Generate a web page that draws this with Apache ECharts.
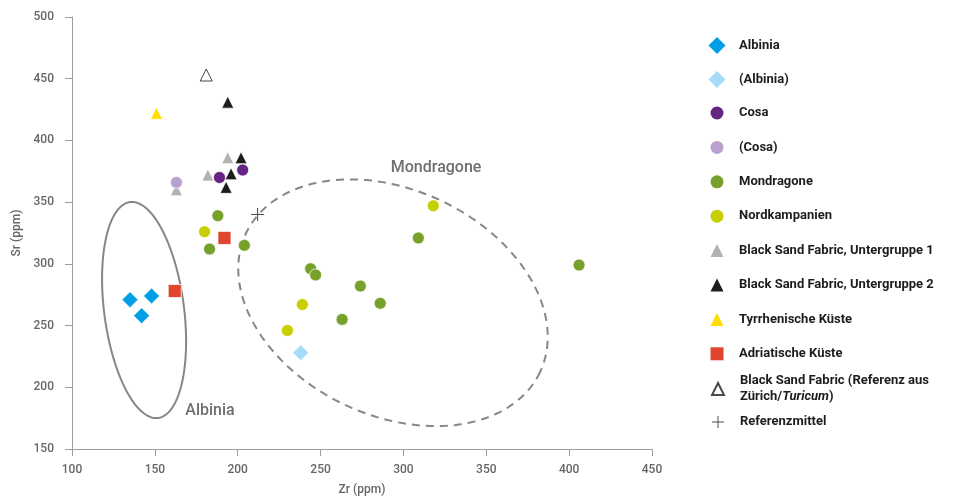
<!DOCTYPE html>
<html>
<head>
<meta charset="utf-8">
<script src="https://cdn.jsdelivr.net/npm/echarts@6/dist/echarts.min.js"></script>
<style>html,body{margin:0;padding:0;background:#fff}#c{width:954px;height:498px}</style>
</head>
<body>
<div id="c"></div>
<script>
// ---- data (Zr, Sr in ppm) ----
var albinia = [[135, 271], [148, 274], [142, 258]];
var albiniaUnsure = [[238, 228]];
var cosa = [[189, 370], [203, 376]];
var cosaUnsure = [[163, 366]];
var mondragone = [[188, 339], [183, 312], [204, 315], [244, 296], [247, 291], [274, 282], [286, 268], [263, 255], [309, 321], [406, 299]];
var nordkampanien = [[180, 326], [239, 267], [230, 246], [318, 347]];
var bsf1 = [[194, 386], [182, 372], [163, 360]];
var bsf2 = [[194, 431], [202, 386], [196, 373], [193, 362]];
var tyrrh = [[151, 422]];
var adriat = [[162, 278], [192, 321]];
var bsfRef = [[181, 453]];
var refMittel = [[212, 340]];
// ellipses: [centre Zr, centre Sr, semi-axis a, semi-axis b (Zr units), angle deg]
var ellAlbinia = [[143.5, 262.6, 65.7, 24.1, 82.6]];
var ellMondragone = [[293.7, 268.5, 98.1, 68.1, 25.2]];
var ellipseLabels = ['Albinia', 'Mondragone'];
var labelPos = [[183.3, 181.0], [319.7, 378.0]];
var xTicks = [100, 450, 50];
var yTicks = [150, 500, 50];

var FONT = 'Roboto';
var refName = 'Black Sand Fabric (Referenz aus Zürich/Turicum)';
var legendNamesA = ['Albinia', '(Albinia)'];
var legendNamesB = ['Cosa', '(Cosa)', 'Mondragone', 'Nordkampanien',
  'Black Sand Fabric, Untergruppe 1', 'Black Sand Fabric, Untergruppe 2', 'Tyrrhenische Küste', 'Adriatische Küste'];
var legendNamesC = [refName, 'Referenzmittel'];

var crossPath = 'path://M0,4.6H10V5.4H0Z M4.6,0H5.4V10H4.6Z';

function sc(name, data, symbol, size, color, extra) {
  var s = {
    type: 'scatter', name: name, data: data, symbol: symbol, symbolSize: size, z: 5,
    itemStyle: { color: color, borderColor: '#ffffff', borderWidth: 0.7, opacity: 1 },
    emphasis: { disabled: true }
  };
  if (extra) for (var k in extra) s[k] = extra[k];
  return s;
}

function ellipseSeries(data, labelIdx, dashed) {
  return {
    type: 'custom', data: data, z: 1, silent: true,
    encode: { x: 0, y: 1 },
    renderItem: function (params, api) {
      var c = api.coord([api.value(0), api.value(1)]);
      var ux = api.size([1, 0])[0];
      var A = api.value(2) * ux, B = api.value(3) * ux;
      var th = api.value(4) * Math.PI / 180;
      var pts = [];
      for (var d = 0; d < 360; d += 2) {
        var t = d * Math.PI / 180;
        pts.push([c[0] + A * Math.cos(t) * Math.cos(th) - B * Math.sin(t) * Math.sin(th),
                  c[1] + A * Math.cos(t) * Math.sin(th) + B * Math.sin(t) * Math.cos(th)]);
      }
      var lp = api.coord(labelPos[labelIdx]);
      return {
        type: 'group',
        children: [
          { type: 'polygon', shape: { points: pts },
            style: { fill: 'none', stroke: '#878787', lineWidth: 2, lineDash: dashed ? [8, 6] : null } },
          { type: 'text', x: lp[0], y: lp[1],
            style: { text: ellipseLabels[labelIdx], fill: '#6f6f6f', font: '500 16px ' + FONT,
                     align: 'center', verticalAlign: 'middle' } }
        ]
      };
    }
  };
}

var axisCommon = {
  axisLine: { show: true, lineStyle: { color: '#9d9d9d', width: 1 } },
  axisTick: { show: true, length: 7, lineStyle: { color: '#9d9d9d' } },
  splitLine: { show: false },
  axisLabel: { color: '#666666', fontFamily: FONT, fontSize: 12, fontWeight: 500 },
  nameTextStyle: { color: '#666666', fontFamily: FONT, fontSize: 12, fontWeight: 500 }
};

function legendText(padLeft) {
  return {
    color: '#1d1d1b', fontFamily: FONT, fontSize: 13, fontWeight: 'bold', lineHeight: 16, padding: [0, 0, 0, padLeft],
    rich: { i: { fontStyle: 'italic', color: '#1d1d1b', fontFamily: FONT, fontSize: 13, fontWeight: 'bold', lineHeight: 16 } }
  };
}

var option = {
  animation: false,
  backgroundColor: '#ffffff',
  grid: { left: 72, right: 302, top: 17, bottom: 49, containLabel: false, outerBoundsMode: 'none' },
  xAxis: Object.assign({}, axisCommon, {
    type: 'value', min: xTicks[0], max: xTicks[1], interval: xTicks[2],
    name: 'Zr (ppm)', nameLocation: 'middle', nameGap: 35,
    axisLabel: Object.assign({}, axisCommon.axisLabel, { margin: 15 })
  }),
  yAxis: Object.assign({}, axisCommon, {
    type: 'value', min: yTicks[0], max: yTicks[1], interval: yTicks[2],
    name: 'Sr (ppm)', nameLocation: 'middle', nameGap: 48,
    axisLabel: Object.assign({}, axisCommon.axisLabel, { margin: 18 })
  }),
  legend: [{
    orient: 'vertical', left: 708.5, top: 37, padding: 0, itemWidth: 17, itemHeight: 17, itemGap: 17,
    data: legendNamesA, textStyle: legendText(8.5), selectedMode: false, itemStyle: { borderWidth: 0 }
  }, {
    orient: 'vertical', left: 710.5, top: 105, padding: 0, itemWidth: 13, itemHeight: 13, itemGap: 18.4,
    data: legendNamesB, textStyle: legendText(10.5), selectedMode: false, itemStyle: { borderWidth: 0 }
  }, {
    orient: 'vertical', left: 711, top: 373, padding: 0, itemWidth: 12, itemHeight: 12, itemGap: 9,
    data: legendNamesC, textStyle: legendText(11), selectedMode: false,
    formatter: function (n) {
      return n === refName ? 'Black Sand Fabric (Referenz aus\nZürich/{i|Turicum})' : n;
    }
  }],
  series: [
    ellipseSeries(ellAlbinia, 0, false),
    ellipseSeries(ellMondragone, 1, true),
    sc('Albinia', albinia, 'diamond', 16, '#009fe3'),
    sc('(Albinia)', albiniaUnsure, 'diamond', 16, '#a6dcf7'),
    sc('Mondragone', mondragone, 'circle', 12, '#76a22c'),
    sc('Nordkampanien', nordkampanien, 'circle', 12, '#c8cf00'),
    sc('Black Sand Fabric, Untergruppe 1', bsf1, 'triangle', 12, '#b2b2b2'),
    sc('Black Sand Fabric, Untergruppe 2', bsf2, 'triangle', 12, '#1d1d1b'),
    sc('Cosa', cosa, 'circle', 12, '#662483'),
    sc('(Cosa)', cosaUnsure, 'circle', 12, '#b9a1cf'),
    sc('Tyrrhenische Küste', tyrrh, 'triangle', 12, '#ffde00'),
    sc('Adriatische Küste', adriat, 'rect', 13, '#e0452e'),
    sc(refName, bsfRef, 'triangle', 12, '#ffffff', { itemStyle: { color: '#ffffff', borderColor: '#1d1d1b', borderWidth: 1 } }),
    sc('Referenzmittel', refMittel, crossPath, 13, '#1d1d1b', { itemStyle: { color: '#1d1d1b', borderWidth: 0 } })
  ]
};

var chart = echarts.init(document.getElementById('c'), null, { renderer: 'canvas' });
chart.setOption(option);
</script>
</body>
</html>
